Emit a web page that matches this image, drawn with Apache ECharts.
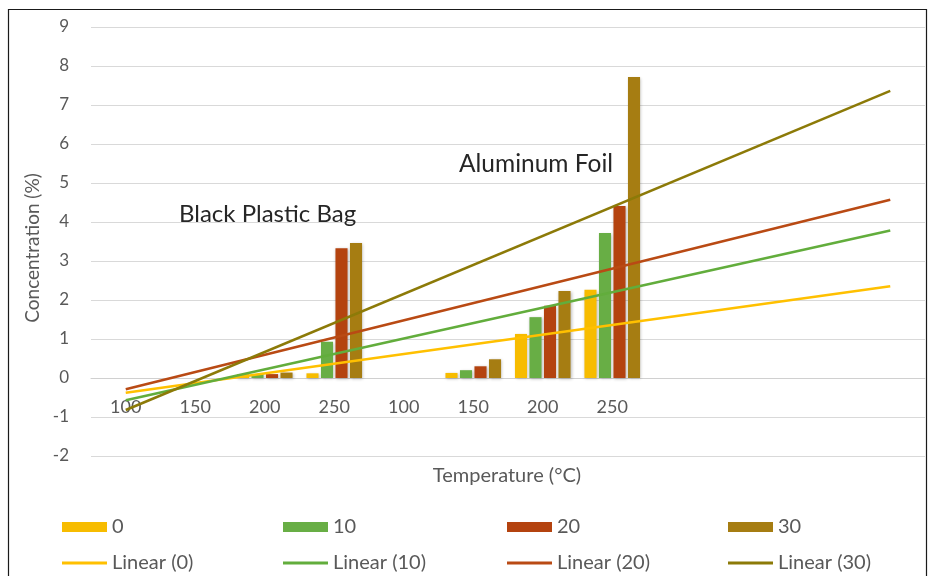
<!DOCTYPE html>
<html>
<head>
<meta charset="utf-8">
<script src="https://cdn.jsdelivr.net/npm/echarts@6/dist/echarts.min.js"></script>
<style>html,body{margin:0;padding:0;background:#fff}#c{width:928px;height:576px}</style>
</head>
<body>
<div id="c"></div>
<script>
// Category tick labels (12 slots: 8 with data, 4 forecast slots for trendlines)
const tickLabels = ['100','150','200','250','100','150','200','250','','','',''];
const seriesNames = ['0','10','20','30'];
// Bar values (Concentration %), Black Plastic Bag (first 4) then Aluminum Foil (last 4)
const values0  = [0, 0, 0.10, 0.12, 0, 0.13, 1.13, 2.26];
const values10 = [0, 0, 0.10, 0.93, 0, 0.20, 1.56, 3.72];
const values20 = [0, 0, 0.10, 3.33, 0, 0.30, 1.85, 4.41];
const values30 = [0, 0, 0.14, 3.46, 0, 0.48, 2.23, 7.72];
// Linear trendline endpoints (at first category and last forecast slot)
const trendStart = [-0.38, -0.57, -0.29, -0.82];
const trendEnd   = [2.35, 3.78, 4.57, 7.36];
const trendStartIdx = 0;
const trendEndIdx = 11;
const yTicks = {min: -2, max: 9, interval: 1};

const barColors  = ['#F7BC00', '#68AE45', '#B4430F', '#A67D12'];
const lineColors = ['#FFC000', '#62AD3C', '#B94A14', '#8C7A08'];
const FONT = 'Lato, "Open Sans", sans-serif';

const barData = [values0, values10, values20, values30];
const series = [];
barData.forEach((vals, i) => {
  series.push({
    name: seriesNames[i],
    type: 'bar',
    data: vals,
    barCategoryGap: '20%',
    barGap: '20%',
    itemStyle: {color: barColors[i], shadowColor: 'rgba(0,0,0,0.25)', shadowBlur: 3, shadowOffsetX: 1, shadowOffsetY: 1},
    z: 2
  });
});
seriesNames.forEach((n, i) => {
  series.push({
    name: 'Linear (' + n + ')',
    type: 'line',
    data: [[trendStartIdx, trendStart[i]], [trendEndIdx, trendEnd[i]]],
    symbol: 'none',
    lineStyle: {color: lineColors[i], width: 2.5},
    itemStyle: {color: lineColors[i]},
    z: 5,
    silent: true
  });
});

const legendCols = [62, 283, 507, 728];
const legends = [];
seriesNames.forEach((n, i) => {
  legends.push({
    data: [n], left: legendCols[i], top: 517, padding: 0,
    itemWidth: 45, itemHeight: 10, icon: 'rect', itemGap: 0,
    textStyle: {fontFamily: FONT, fontSize: 20, color: '#595959', lineHeight: 20},
    selectedMode: false
  });
  legends.push({
    data: [{name: 'Linear (' + n + ')', itemStyle: {color: lineColors[i]}}], left: legendCols[i], top: 553, padding: 0,
    itemWidth: 45, itemHeight: 3, icon: 'rect', itemGap: 0,
    textStyle: {fontFamily: FONT, fontSize: 20, color: '#595959', lineHeight: 20},
    selectedMode: false
  });
});

const chart = echarts.init(document.getElementById('c'), null, {renderer: 'canvas'});
chart.setOption({
  animation: false,
  backgroundColor: '#fff',
  grid: {left: 91, right: 3, top: 27, bottom: 120},
  xAxis: {
    type: 'category',
    position: 'bottom',
    offset: -78,
    data: tickLabels.map((t, i) => String(i)),
    boundaryGap: true,
    axisLine: {onZero: false, lineStyle: {color: '#d0d0d0', width: 1}},
    axisTick: {show: false},
    axisLabel: {
      interval: 0, margin: 20,
      formatter: (v, i) => tickLabels[i],
      fontFamily: FONT, fontSize: 18, color: '#595959'
    },
    splitLine: {show: false}
  },
  yAxis: {
    type: 'value',
    min: yTicks.min, max: yTicks.max, interval: yTicks.interval,
    axisLine: {show: false},
    axisTick: {show: false},
    axisLabel: {margin: 22, fontFamily: FONT, fontSize: 17, color: '#595959'},
    splitLine: {lineStyle: {color: '#d9d9d9', width: 1}}
  },
  legend: legends,
  series: series,
  graphic: [
    {type: 'rect', shape: {x: 8.5, y: 9.5, width: 918, height: 600}, style: {fill: 'none', stroke: '#1a1a1a', lineWidth: 1.2}, silent: true},
    {type: 'text', x: 33, y: 248, rotation: Math.PI / 2,
      style: {text: 'Concentration (%)', fontFamily: FONT, fontSize: 19, fill: '#595959', textAlign: 'center', textVerticalAlign: 'middle'}},
    {type: 'text', x: 507, y: 476,
      style: {text: 'Temperature (°C)', fontFamily: FONT, fontSize: 20, fill: '#595959', textAlign: 'center', textVerticalAlign: 'middle'}},
    {type: 'text', x: 179, y: 214,
      style: {text: 'Black Plastic Bag', fontFamily: FONT, fontSize: 24, fill: '#262626', textAlign: 'left', textVerticalAlign: 'middle'}, z: 10},
    {type: 'text', x: 459, y: 164,
      style: {text: 'Aluminum Foil', fontFamily: FONT, fontSize: 24.5, fill: '#262626', textAlign: 'left', textVerticalAlign: 'middle'}, z: 10}
  ]
});
</script>
</body>
</html>
